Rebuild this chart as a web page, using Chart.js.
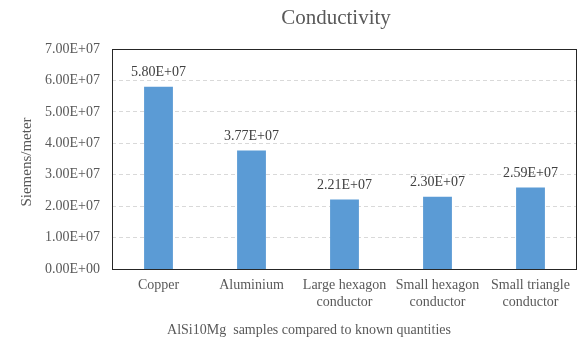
<!DOCTYPE html>
<html>
<head>
<meta charset="utf-8">
<script src="https://cdn.jsdelivr.net/npm/chart.js@4/dist/chart.umd.min.js"></script>
<style>
  html, body { margin: 0; padding: 0; background: #ffffff; }
  #wrap { width: 579px; height: 346px; }
</style>
</head>
<body>
<div id="wrap"><canvas id="chart" width="579" height="346"></canvas></div>
<script>
// Measured conductivity of reference metals and AlSi10Mg samples (S/m)
const categories = [
  "Copper",
  "Aluminium",
  ["Large hexagon", "conductor"],
  ["Small hexagon", "conductor"],
  ["Small triangle", "conductor"]
];
const conductivity = [5.80e7, 3.77e7, 2.21e7, 2.30e7, 2.59e7];
const yTicks = [0, 1e7, 2e7, 3e7, 4e7, 5e7, 6e7, 7e7];

const chartTitle = "Conductivity";
const xTitle = "AlSi10Mg  samples compared to known quantities";
const yTitle = "Siemens/meter";

const SERIF = "'Liberation Serif', 'Times New Roman', serif";

// Spreadsheet-style scientific notation, e.g. 5.80E+07
function sci(v) {
  if (v === 0) return "0.00E+00";
  const [m, e] = v.toExponential(2).split("e");
  const n = parseInt(e, 10);
  return m + "E" + (n < 0 ? "-" : "+") + String(Math.abs(n)).padStart(2, "0");
}

// Frame, value labels and titles
const decorations = {
  id: "decorations",
  beforeDatasetsDraw(chart) {
    const { ctx, chartArea: a } = chart;
    ctx.save();
    ctx.strokeStyle = "#262626";
    ctx.lineWidth = 1;
    ctx.strokeRect(Math.round(a.left) + 0.5, Math.round(a.top) + 0.5,
                   Math.round(a.right - a.left) - 1, Math.round(a.bottom - a.top));
    ctx.restore();
  },
  afterDatasetsDraw(chart) {
    const { ctx, chartArea: a } = chart;
    ctx.save();
    ctx.font = "14px " + SERIF;
    ctx.fillStyle = "#404040";
    ctx.textAlign = "center";
    ctx.textBaseline = "bottom";
    const meta = chart.getDatasetMeta(0);
    meta.data.forEach((bar, i) => {
      ctx.fillText(sci(conductivity[i]), bar.x, bar.y - 7);
    });

    ctx.fillStyle = "#595959";
    ctx.textBaseline = "middle";
    ctx.font = "21px " + SERIF;
    ctx.fillText(chartTitle, 336, 18);

    ctx.font = "14px " + SERIF;
    ctx.fillText(xTitle, 309, 330);

    ctx.font = "15px " + SERIF;
    ctx.translate(27, (a.top + a.bottom) / 2 + 3);
    ctx.rotate(-Math.PI / 2);
    ctx.fillText(yTitle, 0, 0);
    ctx.restore();
  }
};

new Chart(document.getElementById("chart"), {
  type: "bar",
  data: {
    labels: categories,
    datasets: [{
      data: conductivity,
      backgroundColor: "#5b9bd5",
      borderWidth: 0,
      categoryPercentage: 1.0,
      barPercentage: 0.31
    }]
  },
  options: {
    responsive: false,
    animation: false,
    devicePixelRatio: 1,
    layout: { padding: { left: 0, right: 2, top: 49, bottom: 0 } },
    plugins: {
      legend: { display: false },
      tooltip: { enabled: false },
      title: { display: false }
    },
    scales: {
      x: {
        grid: { display: false, drawTicks: false },
        border: { display: false },
        ticks: {
          color: "#595959",
          font: { family: SERIF, size: 14, lineHeight: 1.2 },
          padding: 8,
          maxRotation: 0,
          autoSkip: false
        },
        afterFit(scale) { scale.height = 77; }
      },
      y: {
        min: 0,
        max: 7e7,
        afterBuildTicks(scale) { scale.ticks = yTicks.map(v => ({ value: v })); },
        grid: {
          color: "#d9d9d9",
          drawTicks: false,
          lineWidth: (c) => (c.tick && (c.tick.value === 0 || c.tick.value === 7e7)) ? 0 : 1
        },
        border: { display: false, dash: [4, 3] },
        ticks: {
          color: "#595959",
          font: { family: SERIF, size: 14 },
          padding: 12,
          callback: (v) => sci(v)
        },
        afterFit(scale) { scale.width = 112; }
      }
    }
  },
  plugins: [decorations]
});
</script>
</body>
</html>
